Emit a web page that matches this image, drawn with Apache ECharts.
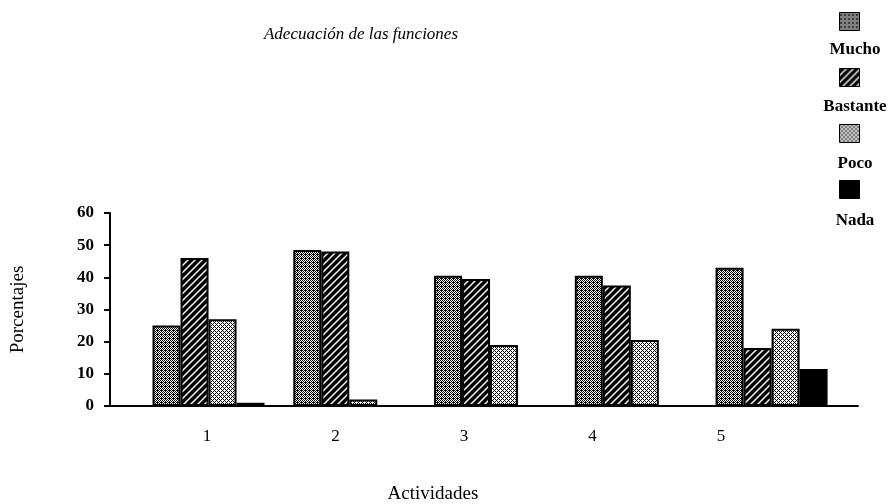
<!DOCTYPE html>
<html>
<head>
<meta charset="utf-8">
<script src="https://cdn.jsdelivr.net/npm/echarts@6/dist/echarts.min.js"></script>
<style>
  html, body { margin: 0; padding: 0; background: #fff; }
  #chart { width: 893px; height: 504px; }
</style>
</head>
<body>
<div id="chart"></div>
<script>
// datos
const categories = ['1', '2', '3', '4', '5'];
const seriesNames = ['Mucho', 'Bastante', 'Poco', 'Nada'];
const mucho = [25, 48.5, 40.5, 40.5, 43];
const bastante = [46, 48, 39.5, 37.5, 18];
const poco = [27, 2, 19, 20.5, 24];
const nada = [1, 0, 0, 0, 11.5];
const yTicks = [0, 10, 20, 30, 40, 50, 60];

const FONT = 'Liberation Serif';

// tramas de relleno (patrones de la impresion original)
function pattern(kind) {
    const s = kind === 'bastante' ? 7 : 4;
    const c = document.createElement('canvas');
    c.width = s; c.height = s;
    const ctx = c.getContext('2d');
    if (kind === 'bastante') {
        ctx.fillStyle = '#000';
        ctx.fillRect(0, 0, s, s);
        ctx.strokeStyle = '#fff';
        ctx.lineWidth = 1.4;
        [[0, s, s, 0], [-2, 2, 2, -2], [s - 2, s + 2, s + 2, s - 2]].forEach(function (l) {
            ctx.beginPath(); ctx.moveTo(l[0], l[1]); ctx.lineTo(l[2], l[3]); ctx.stroke();
        });
        return c;
    }
    ctx.fillStyle = '#fff';
    ctx.fillRect(0, 0, s, s);
    ctx.fillStyle = '#000';
    for (let x = 0; x < s; x++) {
        for (let y = 0; y < s; y++) {
            let on;
            if (kind === 'mucho') on = (x + y) % 2 === 0 || (x === 1 && y === 2);
            else on = (x + y) % 4 === 0 || (x - y + 8) % 4 === 0;
            if (on) ctx.fillRect(x, y, 1, 1);
        }
    }
    return c;
}

const fills = [
    { image: pattern('mucho'), repeat: 'repeat' },
    { image: pattern('bastante'), repeat: 'repeat' },
    { image: pattern('poco'), repeat: 'repeat' },
    '#000'
];
const values = [mucho, bastante, poco, nada];

let myChart = echarts.init(document.getElementById('chart'));

let option = {
    backgroundColor: '#fff',
    animation: false,
    title: [
        {
            text: 'Adecuación de las funciones',
            left: 356, top: 21, textAlign: 'center',
            textStyle: { fontFamily: FONT, fontStyle: 'italic', fontWeight: 'normal', fontSize: 17, color: '#000' }
        },
        {
            text: 'Actividades',
            left: 428, top: 480, textAlign: 'center',
            textStyle: { fontFamily: FONT, fontWeight: 'normal', fontSize: 19, color: '#000' }
        }
    ],
    legend: [
        {   // solo los iconos
            orient: 'vertical', right: 28, top: 7,
            icon: 'rect',
            itemWidth: 20, itemHeight: 18, itemGap: 37,
            data: seriesNames,
            formatter: function () { return ''; },
            itemStyle: { borderColor: '#000', borderWidth: 1 }
        },
        {   // solo los textos, centrados bajo cada icono
            orient: 'vertical', right: -3, top: 36,
            icon: 'rect',
            itemWidth: 1, itemHeight: 1, itemGap: 40,
            data: seriesNames,
            itemStyle: { opacity: 0 },
            formatter: '{a|{name}}',
            textStyle: {
                rich: { a: { width: 72, align: 'center', fontFamily: FONT, fontSize: 17, fontWeight: 'bold', color: '#000', lineHeight: 20 } }
            }
        }
    ],
    grid: [
        { left: 110, right: 35, top: 213, bottom: 98, outerBoundsMode: 'none', containLabel: false },
        { left: 142.75, right: 107.75, top: 213, bottom: 98, outerBoundsMode: 'none', containLabel: false }
    ],
    xAxis: [
        {
            type: 'value', gridIndex: 0, min: 0.3, max: 5.614,
            axisLine: { lineStyle: { color: '#000', width: 2 } },
            axisTick: { show: false },
            axisLabel: { show: false },
            splitLine: { show: false }
        },
        {
            type: 'category', gridIndex: 1, data: categories,
            axisLine: { show: false },
            axisTick: { show: false },
            axisLabel: { margin: 22, fontFamily: FONT, fontSize: 17, color: '#000' }
        }
    ],
    yAxis: [
        {
            type: 'value', gridIndex: 0, min: yTicks[0], max: yTicks[yTicks.length - 1], interval: 10,
            name: 'Porcentajes', nameLocation: 'middle', nameGap: 82,
            nameTextStyle: { fontFamily: FONT, fontSize: 19, color: '#000' },
            axisLine: { show: true, lineStyle: { color: '#000', width: 2 } },
            axisTick: { show: true, length: 6, lineStyle: { color: '#000', width: 2 } },
            axisLabel: { margin: 16, fontFamily: FONT, fontSize: 17, fontWeight: 'bold', color: '#000' },
            splitLine: { show: false }
        },
        { type: 'value', gridIndex: 1, show: false, min: 0, max: 60 }
    ],
    series: seriesNames.map(function (name, k) {
        return {
            name: name,
            type: 'bar',
            xAxisIndex: 0, yAxisIndex: 0,
            barWidth: 28, barGap: '0%',
            itemStyle: { color: fills[k], borderColor: '#000', borderWidth: 2 },
            data: values[k].map(function (v, i) { return [i + 1, v]; })
        };
    })
};
myChart.setOption(option);
</script>
</body>
</html>
